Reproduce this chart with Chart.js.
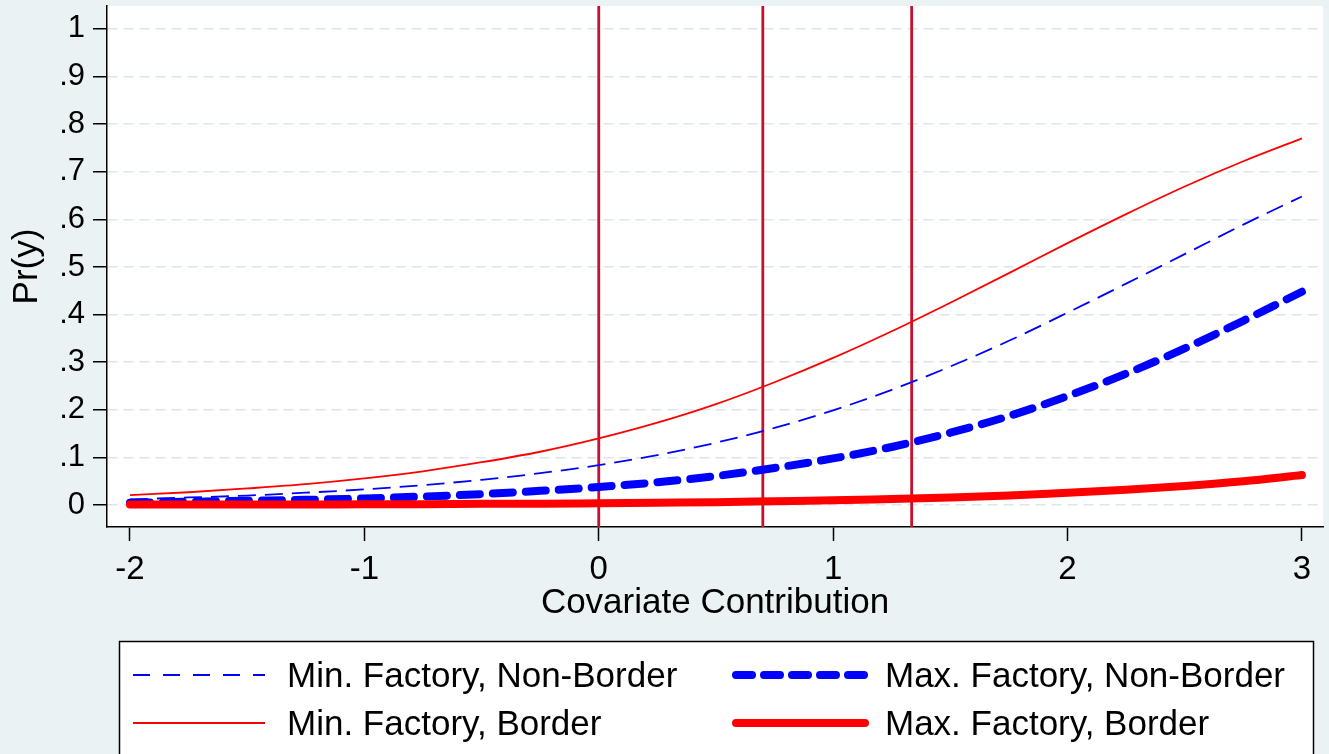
<!DOCTYPE html>
<html>
<head>
<meta charset="utf-8">
<script src="https://cdn.jsdelivr.net/npm/chart.js@4.4.0/dist/chart.umd.min.js"></script>
<style>
  html, body { margin: 0; padding: 0; background: #EAF2F3; }
  canvas { display: block; }
</style>
</head>
<body>
<canvas id="myChart" width="1329" height="754"></canvas>
<script>
// covariate contribution grid
const xVals = [-2, -1.75, -1.5, -1.25, -1, -0.75, -0.5, -0.25, 0, 0.25, 0.5, 0.75, 1, 1.25, 1.5, 1.75, 2, 2.25, 2.5, 2.75, 3];

// predicted probabilities
const minNonBorder = [0.012, 0.016, 0.020, 0.026, 0.033, 0.042, 0.053, 0.067, 0.084, 0.105, 0.131, 0.162, 0.199, 0.242, 0.291, 0.345, 0.404, 0.465, 0.527, 0.589, 0.648];
const maxNonBorder = [0.005, 0.007, 0.009, 0.011, 0.014, 0.018, 0.023, 0.030, 0.038, 0.048, 0.061, 0.078, 0.098, 0.122, 0.152, 0.187, 0.229, 0.276, 0.329, 0.387, 0.448];
const minBorder = [0.021, 0.027, 0.035, 0.044, 0.056, 0.071, 0.090, 0.112, 0.140, 0.173, 0.212, 0.258, 0.309, 0.365, 0.425, 0.487, 0.550, 0.611, 0.669, 0.722, 0.770];
const maxBorder = [0.001, 0.001, 0.001, 0.001, 0.002, 0.002, 0.003, 0.003, 0.004, 0.005, 0.006, 0.008, 0.010, 0.013, 0.016, 0.020, 0.026, 0.032, 0.040, 0.050, 0.063];

// vertical reference lines
const refLines = [0, 0.7, 1.335];

const xTicks = [-2, -1, 0, 1, 2, 3];
const yTicks = [0, 0.1, 0.2, 0.3, 0.4, 0.5, 0.6, 0.7, 0.8, 0.9, 1];
const yTickLabels = ['0', '.1', '.2', '.3', '.4', '.5', '.6', '.7', '.8', '.9', '1'];

const xMin = -2.098, xMax = 3.09;
const yMin = -0.046, yMax = 1.048;

const FONT = "'Liberation Sans', Arial, Helvetica, sans-serif";
const BG = '#EAF2F3';

const toPoints = (ys) => xVals.map((x, i) => ({ x: x, y: ys[i] }));

const series = [
    { label: 'Min. Factory, Non-Border', data: minNonBorder, color: '#0000FF', width: 1.8, dash: [18, 9], cap: 'butt' },
    { label: 'Max. Factory, Non-Border', data: maxNonBorder, color: '#0000FF', width: 8, dash: [20, 13], cap: 'round' },
    { label: 'Min. Factory, Border', data: minBorder, color: '#FF0000', width: 1.8, dash: [], cap: 'butt' },
    { label: 'Max. Factory, Border', data: maxBorder, color: '#FF0000', width: 8, dash: [], cap: 'round' }
];

// later series drawn on top (like Stata)
const curveSets = series.map((s, i) => ({
    label: s.label,
    data: toPoints(s.data),
    borderColor: s.color,
    borderWidth: s.width,
    borderDash: s.dash,
    borderCapStyle: s.cap,
    borderJoinStyle: 'round',
    pointRadius: 0,
    cubicInterpolationMode: 'monotone',
    order: series.length - i
}));

const refSets = refLines.map(v => ({
    label: 'ref',
    data: [{ x: v, y: yMin }, { x: v, y: yMax }],
    borderColor: '#C8102E',
    borderWidth: 2.8,
    pointRadius: 0,
    order: 10
}));

const bgPlugin = {
    id: 'bg',
    beforeDraw(chart) {
        const { ctx, chartArea: a } = chart;
        ctx.save();
        ctx.fillStyle = BG;
        ctx.fillRect(0, 0, chart.width, chart.height);
        ctx.fillStyle = '#FFFFFF';
        ctx.fillRect(a.left, a.top, a.right - a.left, a.bottom - a.top);
        ctx.restore();
    }
};

// Stata style legend box under the plot
const legendPlugin = {
    id: 'stataLegend',
    afterDraw(chart) {
        const ctx = chart.ctx;
        ctx.save();
        ctx.fillStyle = '#FFFFFF';
        ctx.fillRect(119, 641, 1194, 130);
        ctx.strokeStyle = '#000000';
        ctx.lineWidth = 1.5;
        ctx.strokeRect(119.5, 641.5, 1194, 130);

        const cols = [{ x1: 133, x2: 265, tx: 287 }, { x1: 736, x2: 865, tx: 885 }];
        const rows = [675, 723];
        const place = [[0, 0], [0, 1], [1, 0], [1, 1]]; // [row, col]
        series.forEach((s, i) => {
            const r = rows[place[i][0]];
            const c = cols[place[i][1]];
            ctx.beginPath();
            ctx.strokeStyle = s.color;
            ctx.lineWidth = s.width;
            ctx.lineCap = s.cap;
            ctx.setLineDash(s.width > 4 ? [16, 12] : [17, 13]);
            if (s.dash.length === 0) ctx.setLineDash([]);
            ctx.moveTo(c.x1, r);
            ctx.lineTo(c.x2, r);
            ctx.stroke();
            ctx.setLineDash([]);
            ctx.fillStyle = '#000000';
            ctx.font = '35px ' + FONT;
            ctx.textBaseline = 'middle';
            ctx.textAlign = 'left';
            ctx.fillText(s.label, c.tx, r + 2);
        });
        ctx.restore();
    }
};

const ctx = document.getElementById('myChart').getContext('2d');
const myChart = new Chart(ctx, {
    type: 'line',
    data: { datasets: curveSets.concat(refSets) },
    plugins: [bgPlugin, legendPlugin],
    options: {
        responsive: false,
        devicePixelRatio: 1,
        animation: false,
        layout: { padding: { left: 0, top: 6, right: 6, bottom: 127 } },
        plugins: {
            legend: { display: false },
            tooltip: { enabled: false }
        },
        scales: {
            x: {
                type: 'linear',
                min: xMin,
                max: xMax,
                afterBuildTicks: (s) => { s.ticks = xTicks.map(v => ({ value: v })); },
                afterFit: (s) => { s.height = 100; s.paddingLeft = 0; s.paddingRight = 0; },
                ticks: {
                    color: '#000',
                    font: { family: FONT, size: 33 },
                    padding: 9,
                    maxRotation: 0,
                    autoSkip: false,
                    callback: (v) => String(v)
                },
                grid: {
                    drawOnChartArea: false,
                    drawTicks: true,
                    tickLength: 14,
                    tickColor: '#000',
                    tickWidth: 1.5
                },
                border: { display: true, color: '#000', width: 1.5 },
                title: {
                    display: true,
                    text: 'Covariate Contribution',
                    color: '#000',
                    font: { family: FONT, size: 35 },
                    padding: { top: 0, bottom: 3 }
                }
            },
            y: {
                type: 'linear',
                min: yMin,
                max: yMax,
                afterBuildTicks: (s) => { s.ticks = yTicks.map(v => ({ value: v })); },
                afterFit: (s) => { s.width = 107; s.paddingTop = 0; s.paddingBottom = 0; },
                ticks: {
                    color: '#000',
                    font: { family: FONT, size: 31 },
                    padding: 8,
                    autoSkip: false,
                    callback: (v, i) => yTickLabels[i]
                },
                grid: {
                    color: '#DDE6EA',
                    lineWidth: 1.5,
                    drawTicks: true,
                    tickLength: 14,
                    tickColor: '#000',
                    tickWidth: 1.5,
                    tickBorderDash: []
                },
                border: { display: true, color: '#000', width: 1.5, dash: [10, 6] },
                title: {
                    display: true,
                    text: 'Pr(y)',
                    color: '#000',
                    font: { family: FONT, size: 35 },
                    padding: { top: 6, bottom: 0 }
                }
            }
        }
    }
});
</script>
</body>
</html>
